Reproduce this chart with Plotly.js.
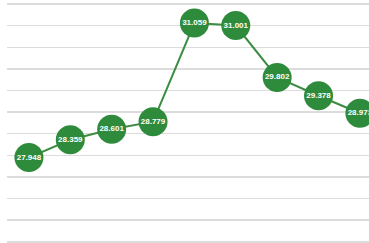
<!DOCTYPE html>
<html>
<head>
<meta charset="utf-8">
<script src="https://cdn.plot.ly/plotly-3.0.1.min.js"></script>
<style>html,body{margin:0;padding:0;background:#fff;}#chart{width:369px;height:243px;}</style>
</head>
<body>
<div id="chart"></div>
<script>
var categories = ["1", "2", "3", "4", "5", "6", "7", "8", "9"];
var values = [27.948, 28.359, 28.601, 28.779, 31.059, 31.001, 29.802, 29.378, 28.973];
var labels = ["27.948", "28.359", "28.601", "28.779", "31.059", "31.001", "29.802", "29.378", "28.973"];

var trace = {
  x: categories,
  y: values,
  type: 'scatter',
  mode: 'lines+markers+text',
  text: labels,
  textposition: 'middle center',
  textfont: {family: 'Liberation Sans, Arial, sans-serif', size: 8, color: '#ffffff', weight: 'bold'},
  line: {color: '#3c8c42', width: 2},
  marker: {size: 29, color: '#2e8b3b', line: {width: 0}},
  cliponaxis: false,
  hoverinfo: 'none'
};

var layout = {
  width: 369, height: 243,
  margin: {l: 7, r: 0, t: 0, b: 0},
  paper_bgcolor: '#ffffff', plot_bgcolor: '#ffffff',
  showlegend: false,
  xaxis: {type: 'category', range: [-0.53, 8.22], showgrid: false, showticklabels: false, zeroline: false, showline: false, ticks: ''},
  yaxis: {range: [25.972, 31.593], dtick: 0.5, tick0: 26, showgrid: true, gridcolor: '#dcdcdc', gridwidth: 1.5, showticklabels: false, zeroline: false, showline: false, ticks: ''}
};

Plotly.newPlot('chart', [trace], layout, {staticPlot: true, displayModeBar: false});
</script>
</body>
</html>
